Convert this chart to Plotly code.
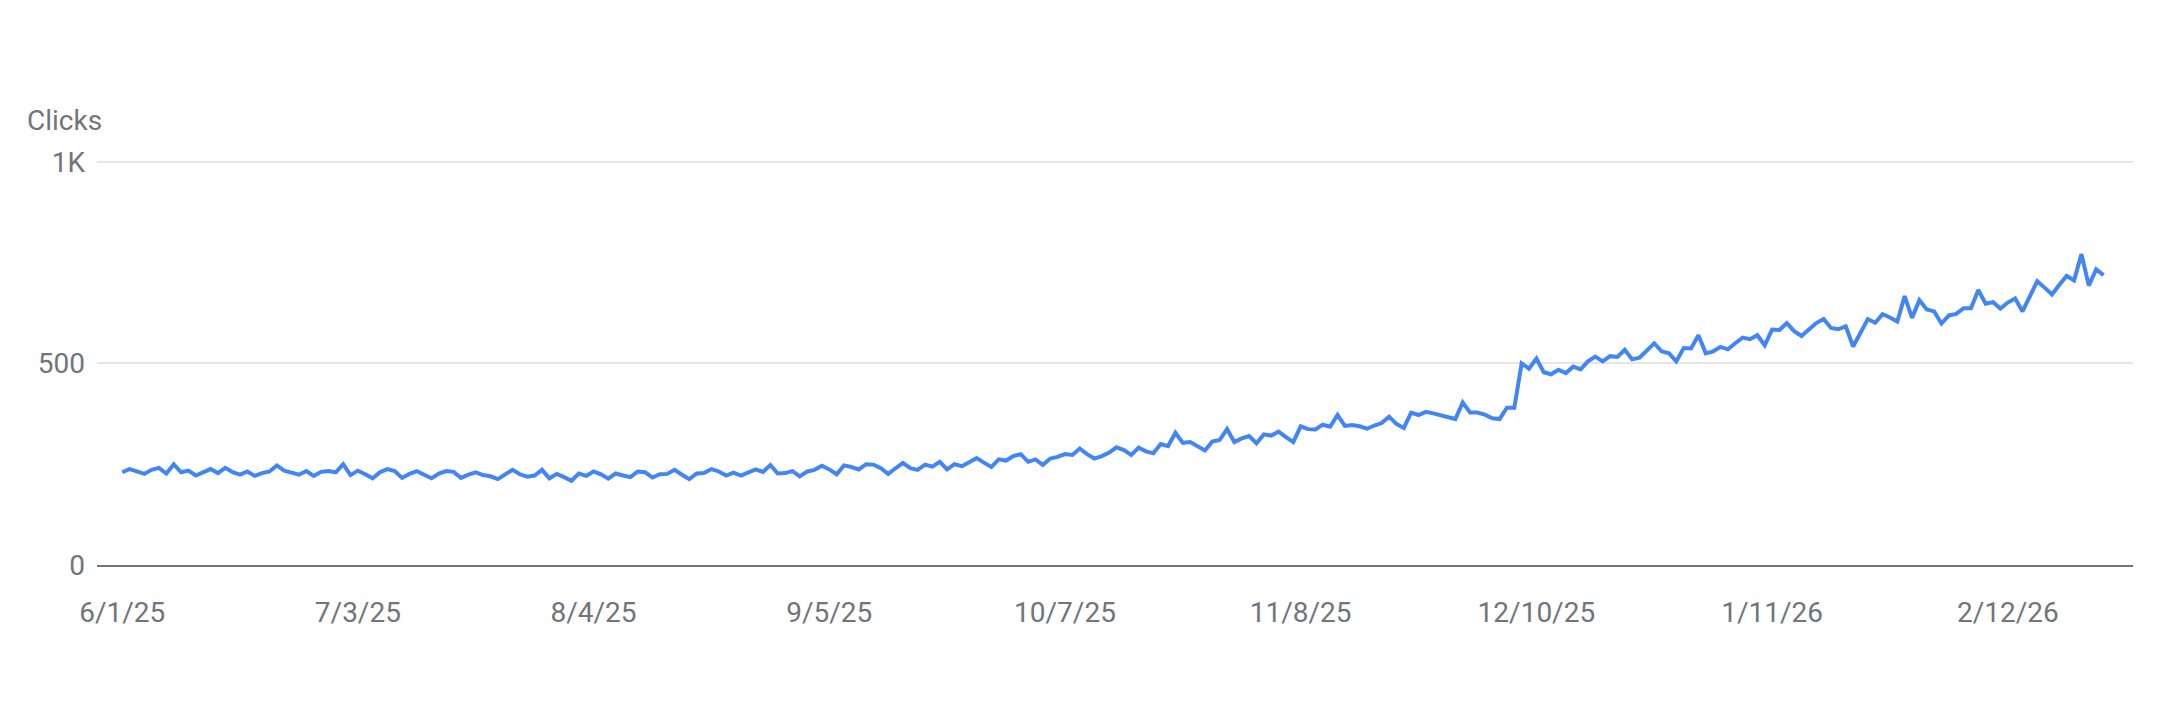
import pandas as pd
import plotly.graph_objects as go

# daily clicks (starts 2025-06-01)
jun = [230, 238, 232, 226, 236, 241, 227, 250, 230, 234,
       222, 231, 238, 228, 241, 230, 224, 232, 221, 228,
       232, 247, 234, 229, 224, 233, 221, 231, 233, 230]
jul = [250, 223, 234, 225, 215, 230, 238, 233, 216, 226,
       233, 224, 215, 227, 233, 231, 216, 224, 230, 223,
       220, 213, 225, 236, 225, 219, 222, 236, 215, 226, 218]
aug = [209, 227, 221, 232, 225, 214, 227, 222, 218, 232,
       230, 217, 225, 226, 236, 224, 213, 227, 228, 238,
       232, 222, 229, 222, 230, 237, 231, 248, 227, 228, 233]
sep = [220, 232, 236, 246, 237, 225, 247, 243, 237, 250,
       249, 240, 226, 240, 253, 240, 236, 249, 244, 256,
       237, 250, 245, 255, 265, 254, 243, 262, 259, 270]
oct_ = [275, 256, 262, 248, 264, 268, 275, 273, 289, 275,
        264, 270, 279, 292, 285, 273, 291, 282, 277, 300,
        295, 328, 303, 305, 295, 284, 306, 310, 337, 305, 314]
nov = [320, 302, 324, 321, 331, 317, 305, 344, 337, 336,
       348, 343, 372, 345, 347, 344, 338, 346, 352, 368,
       350, 340, 378, 372, 380, 376, 371, 366, 362, 403]
dec = [378, 378, 373, 364, 362, 390, 390, 500, 487, 512,
       478, 473, 484, 476, 492, 485, 505, 517, 505, 518,
       516, 534, 510, 514, 531, 550, 530, 525, 505, 538, 537]
jan = [570, 525, 530, 541, 535, 550, 564, 560, 570, 545,
       584, 583, 600, 580, 568, 584, 600, 610, 588, 585,
       592, 542, 575, 610, 601, 622, 614, 604, 667, 613, 657]
feb = [634, 629, 599, 619, 623, 637, 637, 682, 648, 652,
       636, 651, 661, 629, 666, 704, 688, 671, 695, 717,
       706, 771, 693, 733, 719]

clicks = jun + jul + aug + sep + oct_ + nov + dec + jan + feb
dates = pd.date_range("2025-06-01", periods=len(clicks), freq="D")

x_ticks = ["2025-06-01", "2025-07-03", "2025-08-04", "2025-09-05", "2025-10-07",
           "2025-11-08", "2025-12-10", "2026-01-11", "2026-02-12"]
x_labels = ["6/1/25", "7/3/25", "8/4/25", "9/5/25", "10/7/25",
            "11/8/25", "12/10/25", "1/11/26", "2/12/26"]
y_ticks = [0, 500, 1000]
y_labels = ["0", "500", "1K"]

start = pd.Timestamp("2025-06-01")
x_range = [start - pd.Timedelta(hours=82), start + pd.Timedelta(days=273)]

grey = "#70757a"

fig = go.Figure()
fig.add_trace(go.Scatter(
    x=dates,
    y=clicks,
    mode="lines",
    line=dict(color="#4285f4", width=4),
    hoverinfo="x+y",
))

# page body has an 8px margin, so the figure is a bit smaller than the window
fig.update_layout(
    width=2160,
    height=707,
    margin=dict(l=89, r=35, t=149, b=150),
    paper_bgcolor="white",
    plot_bgcolor="white",
    showlegend=False,
    font=dict(family="Roboto", size=28, color=grey),
    xaxis=dict(
        range=x_range,
        tickvals=x_ticks,
        ticktext=x_labels,
        showgrid=False,
        zeroline=False,
        showline=True,
        linecolor="#757575",
        linewidth=2,
        ticks="",
        ticklabelstandoff=21,
        tickfont=dict(size=28, color=grey),
    ),
    yaxis=dict(
        range=[0, 1012],
        tickvals=y_ticks,
        ticktext=y_labels,
        showgrid=True,
        gridcolor="#e6e6e6",
        gridwidth=1.5,
        zeroline=False,
        showline=False,
        ticks="",
        ticklabelstandoff=11,
        tickfont=dict(size=28, color=grey),
    ),
    annotations=[dict(
        text="Clicks",
        xref="paper", yref="paper",
        x=-0.0355, y=1.09,
        xanchor="left", yanchor="middle",
        showarrow=False,
        font=dict(family="Roboto", size=28, color=grey),
    )],
)

fig.write_html("out.html")
